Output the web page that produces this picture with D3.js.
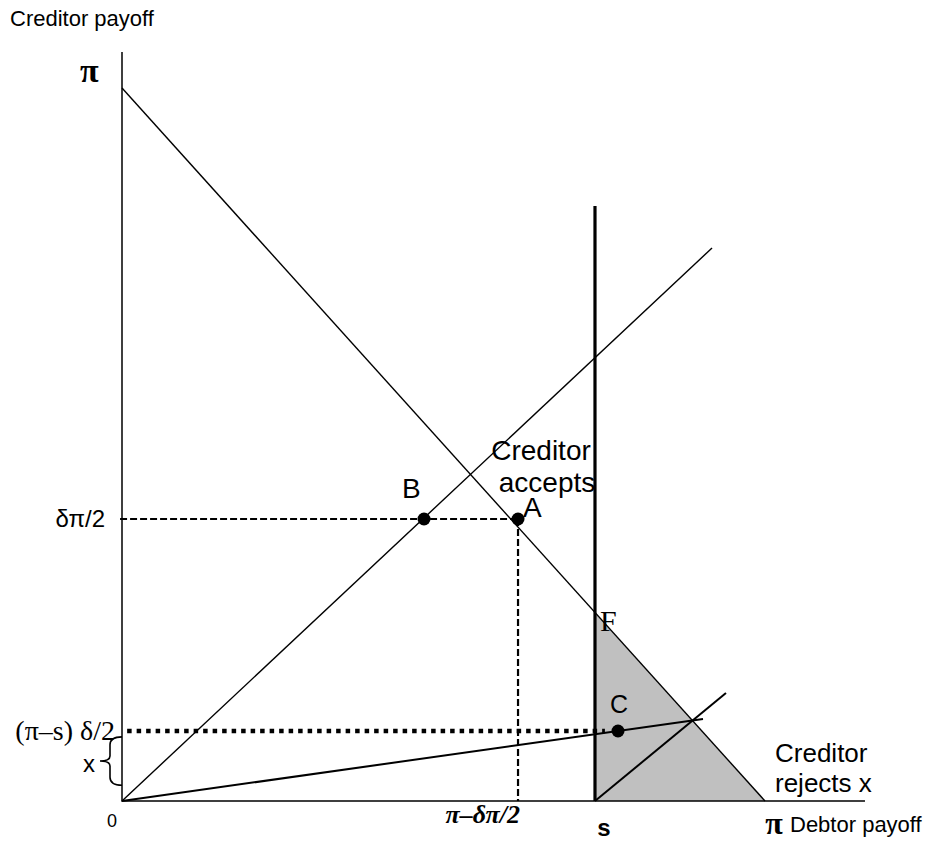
<!DOCTYPE html>
<html>
<head>
<meta charset="utf-8">
<script src="https://cdn.jsdelivr.net/npm/d3@7"></script>
<style>
  body { margin: 0; background: #fff; }
  text { font-family: "Liberation Sans", Arial, sans-serif; fill: #000; }
  .math { font-family: "Liberation Serif", "Times New Roman", serif; }
</style>
</head>
<body>
<div id="chart"></div>
<script>
// values in units of pi (pi = 1)
var s = 0.7356;
var halfDeltaPi = 0.3955;          // delta*pi/2
var xMax = 1.1555, yMax = 1.0505;  // axis extents

var budgetLine = [[0, 1], [1, 0]];
var rayLine = [[0, 0], [0.9176, 0.7756]];
var sLine = [[s, 0], [s, 0.8345]];
var offerLine = [[0, 0], [0.9036, 0.115]];
var smallRay = [[s, 0], [0.9393, 0.1515]];
var shaded = [[s, 0], [s, 1 - s], [1, 0]];

var points = [
  {name: "B", x: 0.4697, y: halfDeltaPi},
  {name: "A", x: 0.6159, y: halfDeltaPi},
  {name: "C", x: 0.7714, y: 0.0982}
];
var rejectLevel = 0.0982;
var rejectEnd = 0.751;

var width = 947, height = 841;

var x = d3.scaleLinear().domain([0, 1]).range([122, 765]);
var y = d3.scaleLinear().domain([0, 1]).range([801, 88]);

var svg = d3.select("#chart").append("svg")
  .attr("width", width)
  .attr("height", height);

var line = d3.line()
  .x(function(d) { return x(d[0]); })
  .y(function(d) { return y(d[1]); });

// shaded region
svg.append("path")
  .attr("d", line(shaded) + "Z")
  .attr("fill", "#c0c0c0");

// axes
svg.append("path").attr("d", line([[0, yMax], [0, 0], [xMax, 0]]))
  .attr("fill", "none").attr("stroke", "#000").attr("stroke-width", 1.5);

var thin = function(data, w) {
  svg.append("path").attr("d", line(data))
    .attr("fill", "none").attr("stroke", "#000").attr("stroke-width", w);
};
thin(budgetLine, 1.4);
thin(rayLine, 1.4);
thin(offerLine, 2);
thin(smallRay, 2);
thin(sLine, 3.2);

// dashed guides to A
var A = points[1];
svg.append("path").attr("d", line([[-0.003, halfDeltaPi], [A.x, A.y]]))
  .attr("fill", "none").attr("stroke", "#000").attr("stroke-width", 2.2)
  .attr("stroke-dasharray", "7,3");
svg.append("path").attr("d", line([[A.x, A.y], [A.x, 0]]))
  .attr("fill", "none").attr("stroke", "#000").attr("stroke-width", 2.2)
  .attr("stroke-dasharray", "7,3");

// dotted line at (pi-s) delta/2
svg.append("path").attr("d", line([[0.008, rejectLevel], [rejectEnd, rejectLevel]]))
  .attr("fill", "none").attr("stroke", "#000").attr("stroke-width", 4.5)
  .attr("stroke-dasharray", "4.5,5");

// points
svg.selectAll("circle.pt")
  .data(points)
  .enter().append("circle")
  .attr("class", "pt")
  .attr("cx", function(d) { return x(d.x); })
  .attr("cy", function(d) { return y(d.y); })
  .attr("r", 6.5)
  .attr("fill", "#000");

// brace for x
var bt = y(0.09), bb = y(0.022), bm = (bt + bb) / 2;
svg.append("path")
  .attr("d", "M" + x(0) + "," + bt +
    " Q110," + bt + " 110," + (bt + 8) +
    " L110," + (bm - 5) +
    " Q110," + bm + " 100," + bm +
    " Q110," + bm + " 110," + (bm + 5) +
    " L110," + (bb - 8) +
    " Q110," + bb + " " + x(0) + "," + bb)
  .attr("fill", "none").attr("stroke", "#000").attr("stroke-width", 1.6);

// labels
var label = function(t, px, py, size, anchor, cls, style, weight) {
  var el = svg.append("text")
    .attr("x", px).attr("y", py)
    .attr("font-size", size)
    .attr("text-anchor", anchor || "start")
    .text(t);
  if (cls) el.attr("class", cls);
  if (style) el.attr("font-style", style);
  if (weight) el.attr("font-weight", weight);
  return el;
};

label("Creditor payoff", 10, 26, 22);
label("π", x(0) - 42, y(1) - 6, 34, "start", "math", null, "bold");
label("δπ/2", x(0) - 17, y(halfDeltaPi) + 8, 24, "end");
label("(π–s) δ/2", x(0) - 7, y(rejectLevel) + 9, 28, "end", "math");
label("x", x(0) - 39, y(0.05) + 7, 24);
label("0", x(0) - 5, 827, 18, "end");

label("B", x(points[0].x) - 22, y(points[0].y) - 21, 28);
label("A", x(A.x) + 5, y(A.y) - 2, 28);
label("C", x(points[2].x) - 8, y(points[2].y) - 18, 25);
label("F", x(s) + 5, y(1 - s) + 19, 30, "start", "math");

label("Creditor", x(s) - 54, 460, 28, "middle");
label("accepts", x(s) - 48, 492, 28, "middle");

label("Creditor", 775, 762, 26);
label("rejects x", 775, 792, 26);

label("π–δπ/2", x(A.x) + 2, 823, 26, "end", "math", "italic", "bold");
label("s", x(s) + 9, 836, 24, "middle", null, null, "bold");
label("π", x(1) + 9, 834, 32, "middle", "math", null, "bold");
label("Debtor payoff", 790, 832, 22);
</script>
</body>
</html>
